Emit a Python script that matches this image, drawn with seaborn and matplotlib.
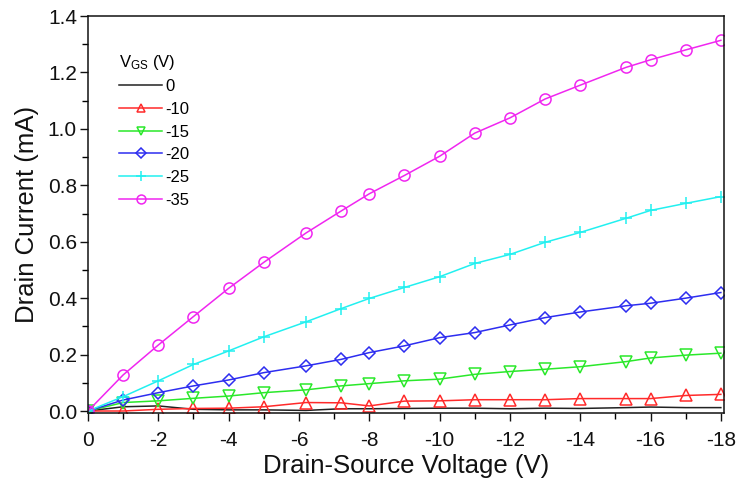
import matplotlib
matplotlib.use("Agg")
import matplotlib.pyplot as plt
import seaborn as sns
import numpy as np
import pandas as pd
from matplotlib.ticker import MultipleLocator

vds = [0, -1, -2, -3, -4, -5, -6.2, -7.2, -8, -9, -10, -11, -12, -13, -14, -15.3, -16, -17, -18]

id_0 = [0, 0.015, 0.018, 0.006, 0.004, 0.004, 0.002, 0.008, 0.008, 0.009, 0.010, 0.010, 0.008, 0.010, 0.009, 0.012, 0.014, 0.012, 0.012]
id_10 = [0, 0.000, 0.006, 0.009, 0.010, 0.015, 0.030, 0.029, 0.018, 0.035, 0.036, 0.040, 0.040, 0.040, 0.044, 0.044, 0.044, 0.055, 0.059]
id_15 = [0, 0.030, 0.036, 0.045, 0.053, 0.065, 0.075, 0.089, 0.097, 0.107, 0.113, 0.130, 0.140, 0.148, 0.157, 0.175, 0.188, 0.198, 0.205]
id_20 = [0, 0.039, 0.065, 0.089, 0.110, 0.136, 0.160, 0.183, 0.207, 0.231, 0.260, 0.278, 0.305, 0.331, 0.351, 0.373, 0.382, 0.400, 0.420]
id_25 = [0, 0.051, 0.107, 0.165, 0.213, 0.263, 0.316, 0.363, 0.399, 0.438, 0.476, 0.523, 0.555, 0.598, 0.633, 0.683, 0.711, 0.736, 0.760]
id_35 = [0, 0.128, 0.234, 0.335, 0.435, 0.527, 0.631, 0.709, 0.770, 0.835, 0.903, 0.985, 1.039, 1.106, 1.155, 1.218, 1.245, 1.280, 1.314]

series_labels = ["0", "-10", "-15", "-20", "-25", "-35"]
series_values = [id_0, id_10, id_15, id_20, id_25, id_35]
colors = ["#222222", "#ff2a2a", "#2ae82a", "#2d2df0", "#22f0f0", "#f026f0"]
markers = [None, "^", "v", "D", "+", "o"]
msizes = [0, 8, 8, 6.5, 9, 8]

plt.rcParams["font.family"] = ["Liberation Sans", "DejaVu Sans"]
plt.rcParams["mathtext.fontset"] = "custom"
plt.rcParams["mathtext.rm"] = "Liberation Sans"
plt.rcParams["mathtext.it"] = "Liberation Sans"

fig = plt.figure(figsize=(7.36, 4.87), dpi=100)
ax = fig.add_axes([0.1196, 0.152, 0.8641, 0.815])

for lab, vals, c, m, ms in zip(series_labels, series_values, colors, markers, msizes):
    df = pd.DataFrame({"Vds": vds, "Id": vals})
    kw = dict(x="Vds", y="Id", data=df, ax=ax, color=c, label=lab, sort=False,
              linewidth=1.1, estimator=None)
    if m is not None:
        kw.update(marker=m, markersize=ms, markerfacecolor="none",
                  markeredgecolor=c, markeredgewidth=1.1)
    sns.lineplot(**kw)

ax.set_xlim(0, -18.09)
ax.set_ylim(-0.007, 1.4)
ax.xaxis.set_major_locator(MultipleLocator(2))
ax.xaxis.set_minor_locator(MultipleLocator(1))
ax.yaxis.set_major_locator(MultipleLocator(0.2))
ax.yaxis.set_minor_locator(MultipleLocator(0.1))
ax.xaxis.set_major_formatter(matplotlib.ticker.FuncFormatter(lambda v, p: f"{v:.0f}" if abs(v) > 1e-9 else "0"))
ax.yaxis.set_major_formatter(matplotlib.ticker.FormatStrFormatter("%.1f"))
ax.tick_params(which="major", direction="out", length=6, width=1, labelsize=15, colors="#111111")
ax.tick_params(which="minor", direction="out", length=4, width=1)
ax.tick_params(axis="x", which="major", pad=7)
ax.tick_params(axis="y", which="major", pad=2)
for s in ax.spines.values():
    s.set_linewidth(1.1)
    s.set_color("#111111")

ax.set_xlabel("Drain-Source Voltage (V)", fontsize=18.5, color="#111111", labelpad=3)
ax.set_ylabel("Drain Current (mA)", fontsize=18.5, color="#111111", labelpad=6)

leg = ax.legend(title=r"V$_{\rm GS}$ (V)", loc="upper left", bbox_to_anchor=(0.038, 0.925),
                frameon=False, fontsize=12, title_fontsize=12, handlelength=2.6,
                handletextpad=0.2, labelspacing=0.46, borderaxespad=0, markerscale=0.8)
leg._legend_box.align = "left"

fig.savefig("out.png", dpi=100)
